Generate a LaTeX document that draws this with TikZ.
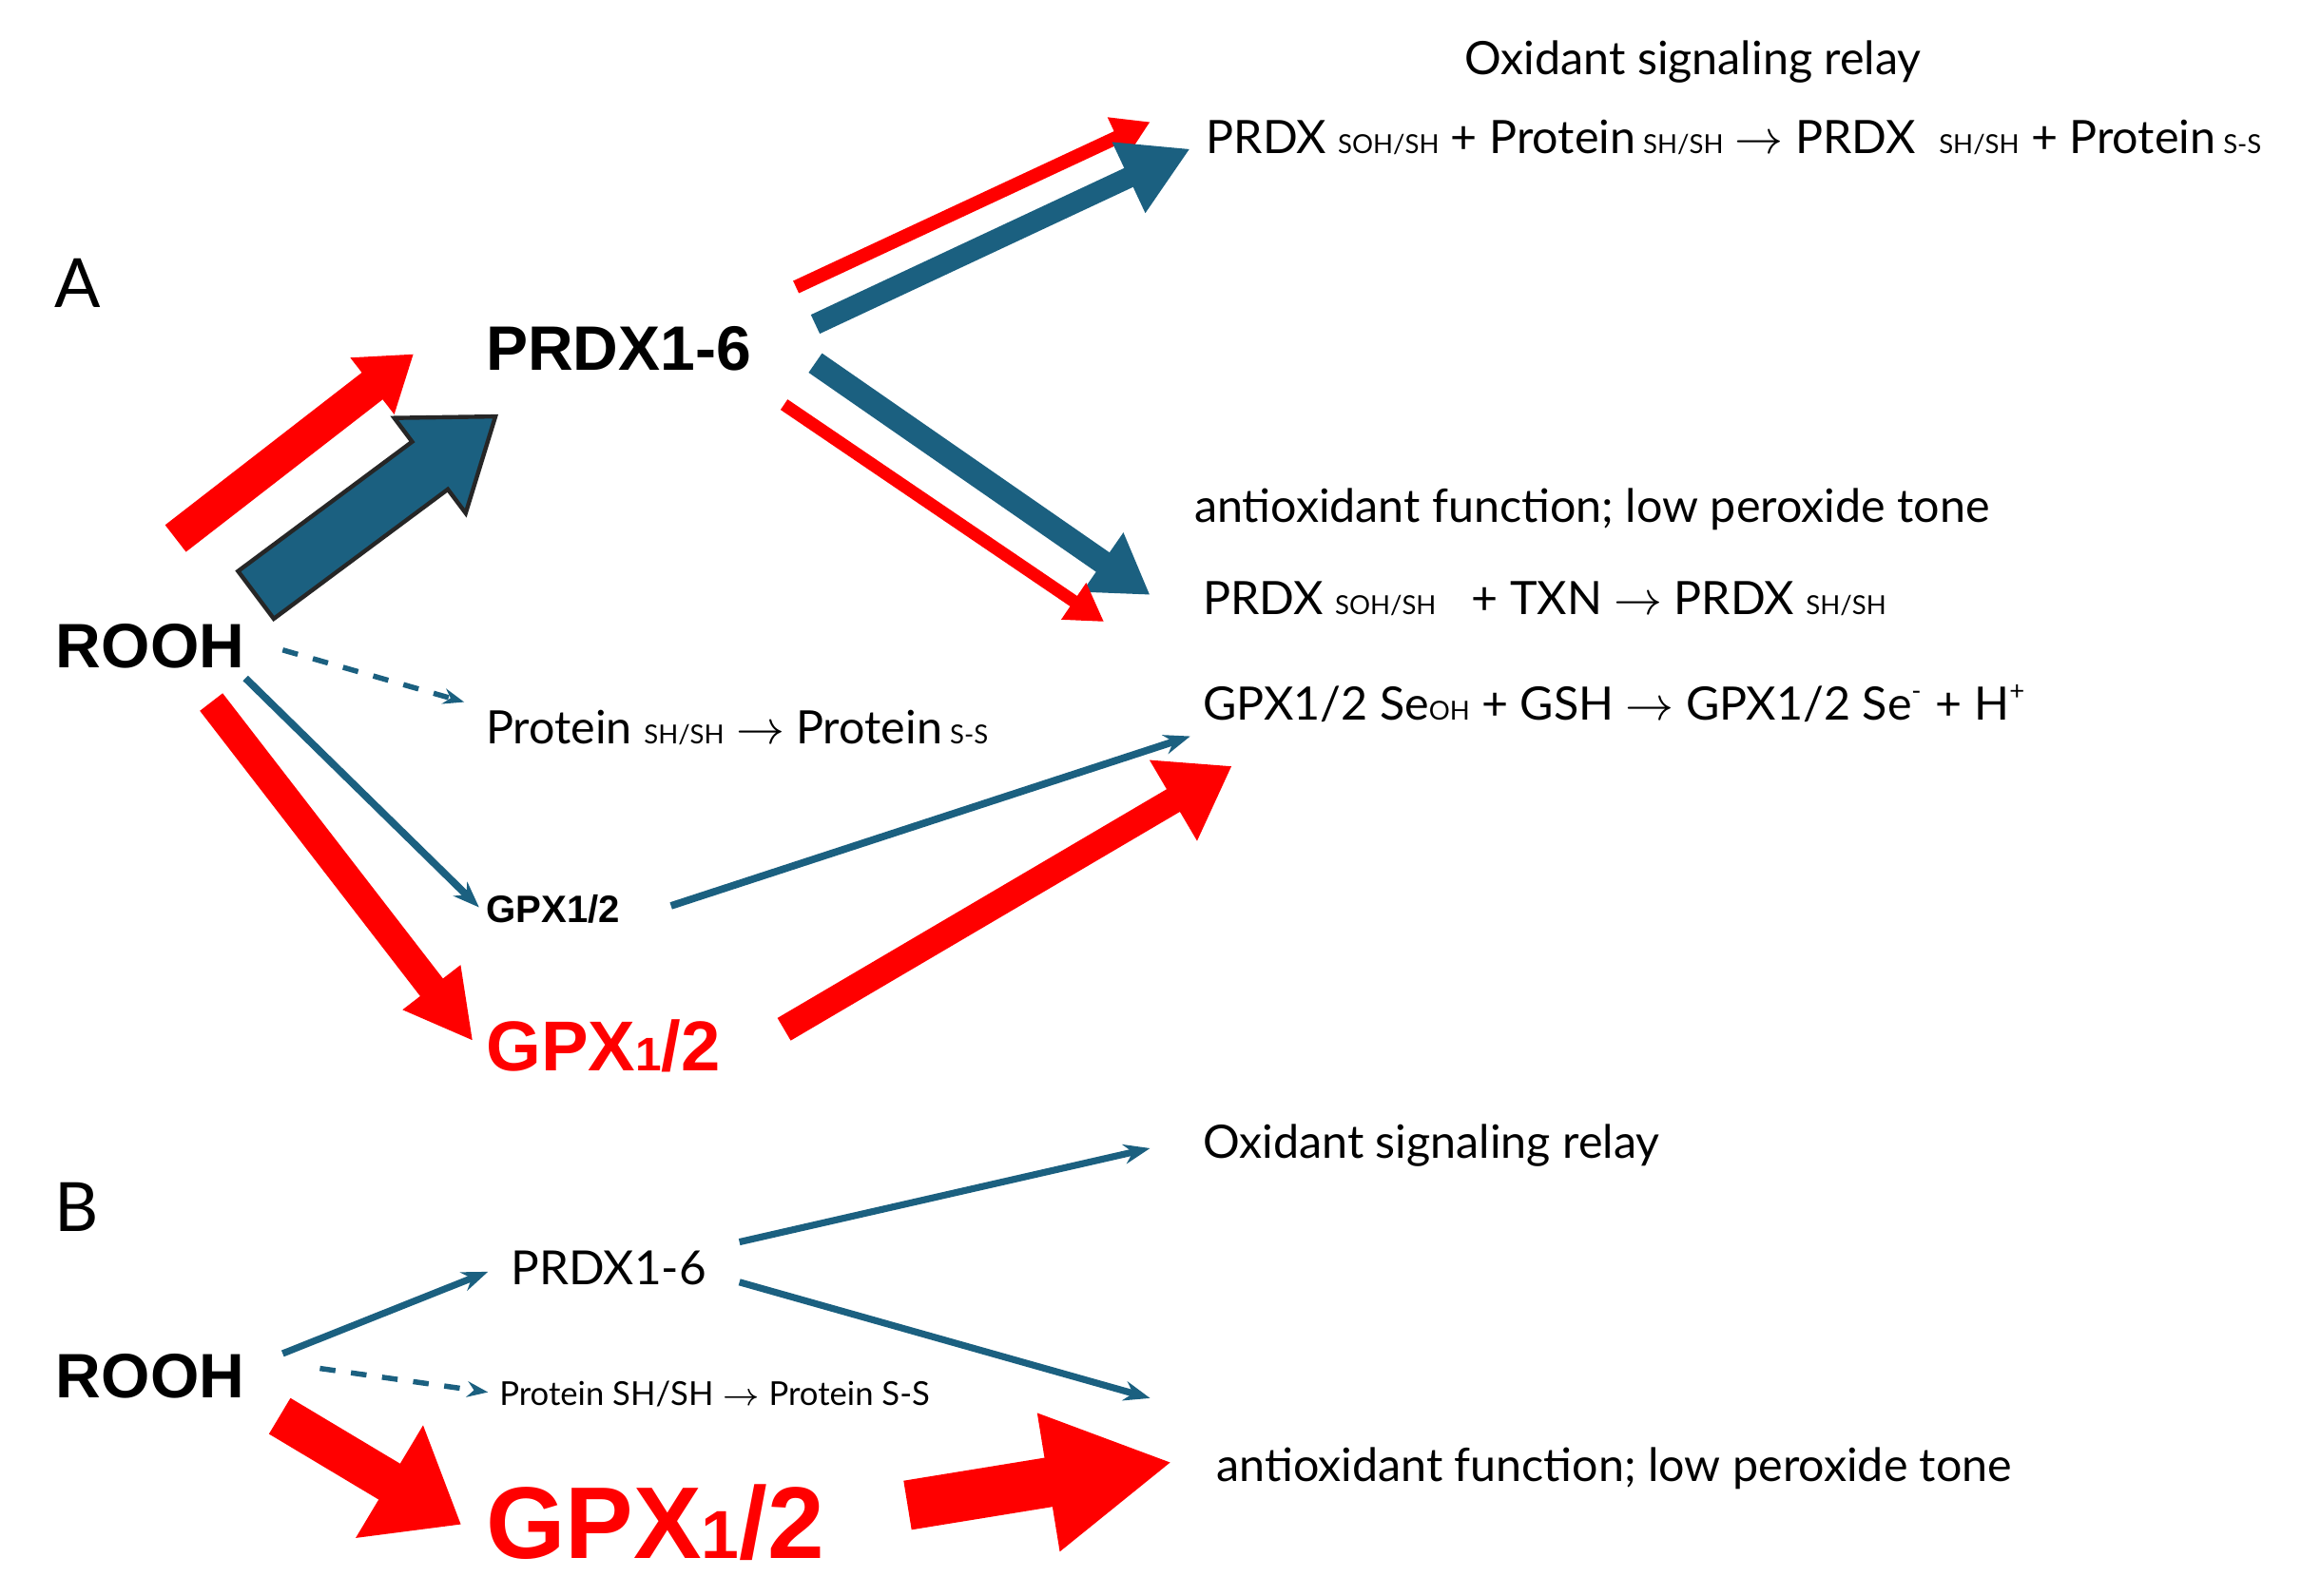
\documentclass[tikz,border=0pt]{standalone}
\usepackage{fontspec}
\setmainfont{Lato}
\newfontfamily\arialf{Liberation Sans}
\usetikzlibrary{arrows.meta}
\definecolor{rd}{HTML}{FF0000}
\definecolor{bl}{HTML}{1B6080}
\newcommand{\fs}[1]{\fontsize{#1}{#1}\selectfont}
\newcommand{\sbs}[1]{{\fs{5pt}#1}}
\begin{document}
\begin{tikzpicture}[x=0.01cm,y=-0.01cm,
  txt/.style={anchor=base west,inner sep=0,font=\fs{8.8pt}},
  bigb/.style={anchor=base west,inner sep=0,font=\arialf\bfseries\fs{12pt}},
  ar/.style={line width=#1},
]
\useasboundingbox (0,0) rectangle (1560,1073);
% ---------- A texts
\node[txt,anchor=base] (t1) at (1138,50) {Oxidant signaling relay};
\node[txt] (t2) at (810,103) {PRDX \sbs{SOH/SH} + Protein\,\sbs{SH/SH} $\rightarrow$ PRDX\ \ \sbs{SH/SH} + Protein\,\sbs{S-S}};
\node[anchor=base west,inner sep=0,font=\fs{13pt}] (A) at (36,207) {A};
\node[bigb] (prdx) at (326,249) {PRDX1-6};
\node[bigb] (rooh) at (37,449) {ROOH};
\node[txt] (prot) at (326,500) {Protein \sbs{SH/SH} $\rightarrow$ Protein\,\sbs{S-S}};
\node[txt] (anti) at (802,351) {antioxidant function; low peroxide tone};
\node[txt] (t3) at (808,413) {PRDX \sbs{SOH/SH}\ \ \ + TXN $\rightarrow$ PRDX \sbs{SH/SH}};
\node[txt] (t4) at (808,484) {GPX1/2 Se\sbs{OH} + GSH $\rightarrow$ GPX1/2 Se\textsuperscript{\fs{5pt}-} + H\textsuperscript{\fs{5pt}+}};
\node[anchor=base west,inner sep=0,font=\arialf\bfseries\fs{7.3pt}] (gpxs) at (326,620) {GPX1/2};
\node[anchor=base west,inner sep=0,font=\arialf\bfseries\fs{13.5pt},text=rd] (gpxr) at (326,720) {GPX\fs{9pt}1\fs{13.5pt}/2};
% ---------- B texts
\node[anchor=base west,inner sep=0,font=\fs{13pt}] (B) at (36,828) {B};
\node[txt] (t5) at (808,779) {Oxidant signaling relay};
\node[anchor=base west,inner sep=0,font=\fs{9pt}] (prdx2) at (343,864) {PRDX1-6};
\node[bigb] (rooh2) at (37,940) {ROOH};
\node[anchor=base west,inner sep=0,font=\fs{6.3pt}] (prot2) at (335,945) {Protein SH/SH $\rightarrow$ Protein S-S};
\node[txt] (anti2) at (817,996) {antioxidant function; low peroxide tone};
\node[anchor=base west,inner sep=0,font=\arialf\bfseries\fs{19.5pt},text=rd] (gpxr2) at (326,1048) {GPX\fs{13pt}1\fs{19.5pt}/2};
% ---------- arrow endpoints
\coordinate (a1s) at (535,193); \coordinate (a1e) at (773,82);
\coordinate (a2s) at (548,218); \coordinate (a2e) at (800,100);
\coordinate (a3s) at (118,362); \coordinate (a3e) at (278,238);
\coordinate (a5s) at (548,244); \coordinate (a5e) at (773,400);
\coordinate (a6s) at (527,272); \coordinate (a6e) at (742,418);
\coordinate (a7s) at (190,437); \coordinate (a7e) at (312,472);
\coordinate (a8s) at (165,456); \coordinate (a8e) at (322,610);
\coordinate (a9s) at (142,472); \coordinate (a9e) at (318,700);
\coordinate (a10s) at (451,609); \coordinate (a10e) at (800,495);
\coordinate (a11s) at (527,692); \coordinate (a11e) at (828,515);
\coordinate (b1s) at (190,910); \coordinate (b1e) at (328,855);
\coordinate (b2s) at (497,835); \coordinate (b2e) at (773,772);
\coordinate (b3s) at (497,862); \coordinate (b3e) at (773,940);
\coordinate (b4s) at (215,920); \coordinate (b4e) at (328,936);
\coordinate (b5s) at (188,952); \coordinate (b5e) at (310,1025);
\coordinate (b6s) at (610,1012); \coordinate (b6e) at (788,983);
% ---------- arrows A
\draw[rd,line width=2.6pt,-{Triangle[length=7pt 0,width=8pt 0]}] (a1s) -- (a1e);
\draw[bl,line width=4pt,-{Triangle[length=13pt 0,width=14pt 0]}] (a2s) -- (a2e);
\draw[rd,line width=6.5pt,-{Triangle[length=10pt 0,width=13pt 0]}] (a3s) -- (a3e);
\draw[bl,line width=0.8pt,fill=bl,draw=black!85] (184,416) -- (301,329) -- (313,345) -- (333,280) -- (265,281) -- (277,297) -- (160,384) -- cycle;
\draw[bl,line width=4.5pt,-{Triangle[length=11pt 0,width=13pt 0]}] (a5s) -- (a5e);
\draw[rd,line width=2.4pt,-{Triangle[length=7pt 0,width=8pt 0]}] (a6s) -- (a6e);
\draw[bl,line width=1pt,dashed,-{Stealth[length=4pt]}] (a7s) -- (a7e);
\draw[bl,line width=1.4pt,-{Stealth[length=5pt]}] (a8s) -- (a8e);
\draw[rd,line width=5.5pt,-{Triangle[length=13pt 0,width=13pt 0]}] (a9s) -- (a9e);
\draw[bl,line width=1.4pt,-{Stealth[length=5pt]}] (a10s) -- (a10e);
\draw[rd,line width=5pt,-{Triangle[length=13pt 0,width=17pt 0]}] (a11s) -- (a11e);
% ---------- arrows B
\draw[bl,line width=1.3pt,-{Stealth[length=5pt]}] (b1s) -- (b1e);
\draw[bl,line width=1.3pt,-{Stealth[length=5pt]}] (b2s) -- (b2e);
\draw[bl,line width=1.3pt,-{Stealth[length=5pt]}] (b3s) -- (b3e);
\draw[bl,line width=1pt,dashed,-{Stealth[length=4pt]}] (b4s) -- (b4e);
\draw[rd,line width=8pt,-{Triangle[length=16pt 0,width=24pt 0]}] (b5s) -- (b5e);
\draw[rd,line width=9.5pt,-{Triangle[length=24pt 0,width=25pt 0]}] (b6s) -- (b6e);
\end{tikzpicture}
\end{document}
